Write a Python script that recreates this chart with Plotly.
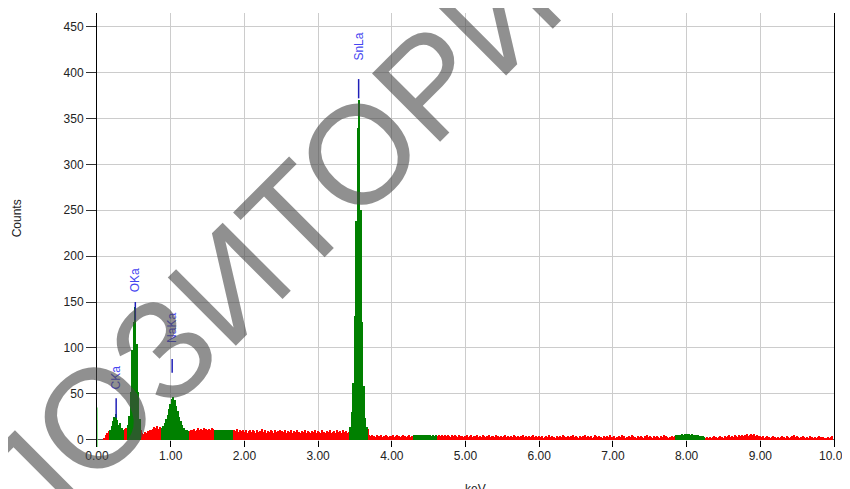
import plotly.graph_objects as go

# EDS spectrum, 0.02 keV channels (channel centre = index * 0.02 keV)
CHANNEL_KEV = 0.02
COUNTS_0 = [0, 0, 0, 0, 0, 2, 5, 7, 9, 11,
            15, 20, 25, 28, 21, 16, 18, 13, 11, 12,
            13, 16, 26, 52, 98, 128, 145, 104, 52, 22,
            11, 7, 6, 8, 7, 9, 11, 10, 12, 14,
            13, 15, 12, 14, 13, 15, 18, 22, 27, 33]
COUNTS_1 = [39, 44, 46, 43, 37, 31, 25, 20, 16, 13,
            11, 10, 9, 9, 11, 10, 12, 9, 11, 13,
            10, 12, 11, 13, 12, 10, 12, 11, 13, 12,
            11, 11, 11, 10, 11, 11, 11, 10, 11, 11,
            10, 11, 11, 10, 9, 12, 8, 10, 9, 11]
COUNTS_2 = [8, 10, 7, 9, 11, 8, 10, 9, 7, 10,
            8, 9, 12, 8, 10, 7, 9, 8, 10, 9,
            7, 11, 8, 9, 10, 7, 9, 8, 10, 7,
            9, 8, 10, 7, 9, 8, 10, 8, 7, 9,
            8, 10, 7, 9, 8, 7, 9, 8, 10, 7]
COUNTS_3 = [9, 8, 7, 10, 8, 7, 9, 8, 10, 7,
            8, 9, 7, 10, 8, 9, 7, 11, 8, 9,
            7, 8, 14, 30, 62, 135, 238, 340, 370, 250,
            128, 58, 24, 14, 12, 5, 4, 5, 4, 3,
            5, 4, 4, 5, 3, 4, 5, 4, 3, 4]
COUNTS_4 = [4, 5, 3, 4, 5, 4, 3, 4, 5, 4,
            3, 4, 5, 3, 4, 5, 5, 5, 5, 5,
            5, 5, 5, 5, 5, 5, 5, 4, 5, 4,
            5, 4, 5, 4, 5, 4, 5, 4, 5, 4,
            3, 5, 4, 5, 4, 3, 5, 4, 4, 3]
COUNTS_5 = [4, 5, 3, 4, 5, 3, 4, 4, 5, 3,
            4, 3, 5, 4, 3, 4, 5, 3, 4, 4,
            3, 5, 4, 3, 4, 3, 4, 5, 3, 4,
            3, 4, 3, 5, 4, 3, 4, 3, 4, 5,
            3, 4, 3, 4, 3, 4, 5, 3, 4, 3]
COUNTS_6 = [4, 3, 4, 2, 3, 4, 3, 5, 3, 4,
            3, 2, 4, 3, 4, 3, 5, 4, 3, 2,
            4, 3, 4, 5, 3, 4, 3, 2, 4, 3,
            4, 5, 3, 4, 3, 4, 2, 3, 5, 4,
            3, 4, 3, 2, 4, 3, 4, 3, 5, 3]
COUNTS_7 = [3, 4, 2, 3, 4, 3, 5, 3, 4, 2,
            3, 4, 3, 5, 4, 3, 2, 4, 3, 4,
            3, 2, 4, 5, 3, 4, 3, 2, 4, 3,
            4, 3, 2, 4, 3, 5, 4, 3, 2, 3,
            4, 3, 4, 5, 5, 5, 5, 6, 5, 6]
COUNTS_8 = [6, 6, 6, 5, 6, 5, 5, 5, 5, 4,
            4, 4, 3, 2, 3, 2, 3, 2, 3, 4,
            3, 2, 3, 4, 3, 2, 4, 3, 4, 5,
            3, 4, 3, 5, 4, 3, 5, 4, 5, 4,
            5, 6, 4, 5, 6, 5, 6, 4, 5, 4]
COUNTS_9 = [4, 3, 4, 2, 3, 4, 3, 2, 3, 4,
            3, 2, 3, 2, 3, 4, 3, 2, 4, 3,
            2, 3, 4, 5, 3, 4, 3, 2, 3, 4,
            3, 2, 3, 2, 4, 3, 2, 3, 2, 3,
            4, 3, 2, 3, 2, 2, 3, 2, 3, 4]

# highlighted regions of interest (keV)
ROI_START = [0.17, 0.42, 0.87, 1.59, 3.43, 4.29, 7.85]
ROI_END   = [0.37, 0.59, 1.25, 1.85, 3.67, 4.61, 8.25]

# peak identification markers
LINE_NAMES = ["CKa", "OKa", "NaKa", "SnLa"]
LINE_KEV   = [0.26, 0.52, 1.02, 3.55]
MARK_LO    = [24, 130, 73, 372]
MARK_HI    = [45, 150, 88, 393]
LABEL_Y    = [68, 174, 122, 428]

CURSOR_KEV = 0.0
CURSOR_RANGE = [-8, 35]

RED   = "#FF0000"
GREEN = "#008000"
BLUE_TXT  = "#4646F0"
BLUE_LINE = "#2020B8"
FONT = "Arial, Liberation Sans, sans-serif"

counts = (COUNTS_0 + COUNTS_1 + COUNTS_2 + COUNTS_3 + COUNTS_4 +
          COUNTS_5 + COUNTS_6 + COUNTS_7 + COUNTS_8 + COUNTS_9)
kev = [round(i * CHANNEL_KEV, 2) for i in range(len(counts))]


def in_roi(e):
    return any(s <= e <= t for s, t in zip(ROI_START, ROI_END))


red_y   = [None if in_roi(e) else c for e, c in zip(kev, counts)]
green_y = [c if in_roi(e) else None for e, c in zip(kev, counts)]

fig = go.Figure()
fig.add_trace(go.Bar(x=kev, y=red_y, width=CHANNEL_KEV, marker_color=RED,
                     marker_line_width=0, showlegend=False))
fig.add_trace(go.Bar(x=kev, y=green_y, width=CHANNEL_KEV, marker_color=GREEN,
                     marker_line_width=0, showlegend=False))

# cursor line at origin
fig.add_trace(go.Scatter(x=[CURSOR_KEV, CURSOR_KEV], y=CURSOR_RANGE, mode="lines",
                         line=dict(color="#66E066", width=1.5), showlegend=False))

# peak markers + labels
for name, e, lo, hi, ly in zip(LINE_NAMES, LINE_KEV, MARK_LO, MARK_HI, LABEL_Y):
    fig.add_trace(go.Scatter(x=[e, e], y=[lo, hi], mode="lines",
                             line=dict(color=BLUE_LINE, width=1.5), showlegend=False))
    fig.add_annotation(x=e, y=ly, xref="x", yref="y", text=name, textangle=-90,
                       showarrow=False, xanchor="center", yanchor="middle",
                       font=dict(family=FONT, size=12, color=BLUE_TXT))

# axis titles
fig.add_annotation(x=-0.1085, y=0.527, xref="paper", yref="paper", text="Counts",
                   textangle=-90, showarrow=False, xanchor="center", yanchor="middle",
                   font=dict(family=FONT, size=12, color="#222222"))
fig.add_annotation(x=0.513, y=-0.097, xref="paper", yref="paper", text="keV",
                   showarrow=False, xanchor="center", yanchor="middle",
                   font=dict(family=FONT, size=12, color="#222222"))

# watermark
fig.add_annotation(x=0.18, y=0.376, xref="paper", yref="paper", text="РЕПОЗИТОРИЙ",
                   textangle=-45, showarrow=False, xanchor="center", yanchor="middle",
                   font=dict(family=FONT, size=140, color="rgba(70,70,70,0.6)"))

# page body keeps an 8px margin, so the figure is 842x481 placed at (8, 8)
fig.update_layout(
    width=842, height=481,
    margin=dict(l=89, r=16, t=5, b=42, autoexpand=False),
    plot_bgcolor="white", paper_bgcolor="white",
    barmode="overlay", bargap=0,
    font=dict(family=FONT, size=12, color="#222222"),
)
fig.update_xaxes(range=[0, 10], dtick=1, tickformat=".2f",
                 showgrid=True, gridcolor="#CCCCCC", gridwidth=1,
                 showline=False, zeroline=False, automargin=False,
                 ticks="inside", ticklen=6, tickcolor="#000000")
fig.update_yaxes(range=[-8, 465], tick0=0, dtick=50,
                 showgrid=True, gridcolor="#CCCCCC", gridwidth=1,
                 showline=True, linecolor="#000000", linewidth=1, mirror=True,
                 zeroline=True, zerolinecolor="#555555", zerolinewidth=1,
                 automargin=False,
                 ticks="outside", ticklen=10, tickcolor="#333333")

fig.write_html("out.html")
